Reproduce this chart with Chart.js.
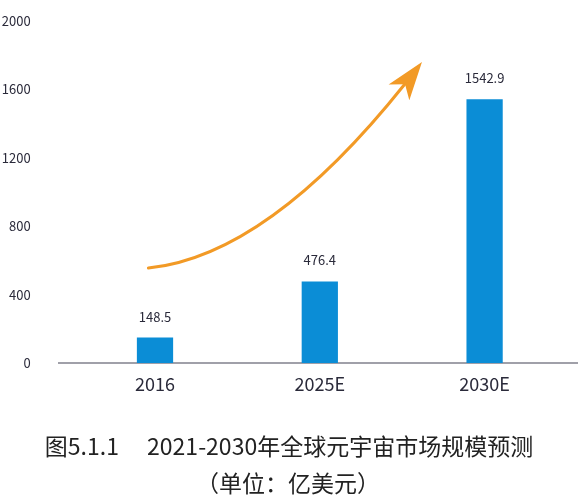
<!DOCTYPE html>
<html>
<head>
<meta charset="utf-8">
<script src="https://cdn.jsdelivr.net/npm/chart.js@4"></script>
<style>
  body { margin: 0; background: #fff; }
  #wrap { position: relative; width: 578px; height: 500px; }
</style>
</head>
<body>
<div id="wrap"><canvas id="chartCanvas"></canvas></div>
<script>
// ------- Data -------
const categories = ["2016", "2025E", "2030E"];
const marketSize = [148.5, 476.4, 1542.9];   // 亿美元
const yTicks = [0, 400, 800, 1200, 1600, 2000];
const captionLines = ["图5.1.1\u3000 2021-2030年全球元宇宙市场规模预测", "（单位：亿美元）"];

// trend arrow, in data space (category index, value)
const arrowFrom = { i: -0.04, v: 555 };
const arrowCtrl = { i: 0.73, v: 632 };
const arrowTo = { i: 1.62, v: 1760 };

// ------- Styles -------
const FONT = "'Noto Sans CJK SC', 'Noto Sans', sans-serif";
const BAR_COLOR = "#0b8dd6";
const ARROW_COLOR = "#f29a26";
const TEXT_COLOR = "#2a2a3a";

Chart.defaults.font.family = FONT;

// ------- Plugins -------
const baselinePlugin = {
  id: "baseline",
  beforeDatasetsDraw(chart) {
    const { ctx } = chart;
    const y = chart.scales.y.getPixelForValue(0);
    ctx.save();
    ctx.strokeStyle = "#80808c";
    ctx.lineWidth = 1.5;
    ctx.beginPath();
    ctx.moveTo(58, y);
    ctx.lineTo(chart.width, y);
    ctx.stroke();
    ctx.restore();
  },
};

const valueLabelPlugin = {
  id: "valueLabels",
  afterDatasetsDraw(chart) {
    const { ctx } = chart;
    const meta = chart.getDatasetMeta(0);
    ctx.save();
    ctx.font = "13px " + FONT;
    ctx.fillStyle = TEXT_COLOR;
    ctx.textAlign = "center";
    ctx.textBaseline = "middle";
    meta.data.forEach((bar, idx) => {
      ctx.fillText(marketSize[idx].toFixed(1), bar.x, bar.y - 21);
    });
    ctx.restore();
  },
};

const arrowPlugin = {
  id: "trendArrow",
  afterDatasetsDraw(chart) {
    const { ctx } = chart;
    const xs = chart.scales.x, ys = chart.scales.y;
    const p = (pt) => ({ x: xs.getPixelForValue(pt.i), y: ys.getPixelForValue(pt.v) });
    const a = p(arrowFrom), c = p(arrowCtrl), b = p(arrowTo);

    // head direction follows the curve's end tangent
    let dx = b.x - c.x, dy = b.y - c.y;
    const len = Math.hypot(dx, dy);
    dx /= len; dy /= len;
    const headLen = 38, halfW = 13, notch = 28;
    const nx = -dy, ny = dx;
    const baseX = b.x - dx * headLen, baseY = b.y - dy * headLen;
    const notchX = b.x - dx * notch, notchY = b.y - dy * notch;

    ctx.save();
    ctx.strokeStyle = ARROW_COLOR;
    ctx.fillStyle = ARROW_COLOR;
    ctx.lineWidth = 3;
    ctx.lineCap = "round";
    // shaft: stop where the head begins
    ctx.beginPath();
    ctx.moveTo(a.x, a.y);
    const t = 1 - notch / (2 * len);
    const cx2 = c.x + (b.x - c.x) * t, cy2 = c.y + (b.y - c.y) * t;
    const cx1 = a.x + (c.x - a.x) * t, cy1 = a.y + (c.y - a.y) * t;
    ctx.quadraticCurveTo(cx1, cy1, (1 - t) * cx1 + t * cx2, (1 - t) * cy1 + t * cy2);
    ctx.stroke();
    // head
    ctx.beginPath();
    ctx.moveTo(b.x, b.y);
    ctx.lineTo(baseX + nx * halfW, baseY + ny * halfW);
    ctx.lineTo(notchX, notchY);
    ctx.lineTo(baseX - nx * halfW, baseY - ny * halfW);
    ctx.closePath();
    ctx.fill();
    ctx.restore();
  },
};

const captionPlugin = {
  id: "caption",
  afterDraw(chart) {
    const { ctx } = chart;
    ctx.save();
    ctx.font = "23px " + FONT;
    ctx.fillStyle = "#222";
    ctx.textAlign = "center";
    ctx.textBaseline = "middle";
    ctx.fillText(captionLines[0], chart.width / 2, 446);
    ctx.fillText(captionLines[1], chart.width / 2 - 1, 483);
    ctx.restore();
  },
};

// ------- Chart -------
const ctx = document.getElementById("chartCanvas").getContext("2d");
new Chart(ctx, {
  type: "bar",
  data: {
    labels: categories,
    datasets: [{
      data: marketSize,
      backgroundColor: BAR_COLOR,
      barPercentage: 0.22,
      categoryPercentage: 1,
    }],
  },
  options: {
    responsive: true,
    maintainAspectRatio: false,
    animation: false,
    layout: { padding: { top: 21, right: 11, left: 0, bottom: 0 } },
    plugins: {
      legend: { display: false },
      tooltip: { enabled: false },
      title: { display: false },
    },
    scales: {
      x: {
        grid: { display: false, drawTicks: false },
        border: { display: false },
        ticks: { color: TEXT_COLOR, font: { size: 18 }, padding: 10 },
        afterFit: (scale) => { scale.height = 137; },
      },
      y: {
        min: 0,
        max: 2000,
        afterBuildTicks: (scale) => { scale.ticks = yTicks.map((v) => ({ value: v })); },
        grid: { display: false, drawTicks: false },
        border: { display: false },
        ticks: { color: TEXT_COLOR, font: { size: 13 }, padding: 42, callback: (v) => String(v) },
        afterFit: (scale) => {
          scale.width = 72.6;
          // the wide tick padding should not push the plot down
          scale.paddingTop = 8;
          scale.paddingBottom = 8;
        },
      },
    },
  },
  plugins: [baselinePlugin, valueLabelPlugin, arrowPlugin, captionPlugin],
});
</script>
</body>
</html>
